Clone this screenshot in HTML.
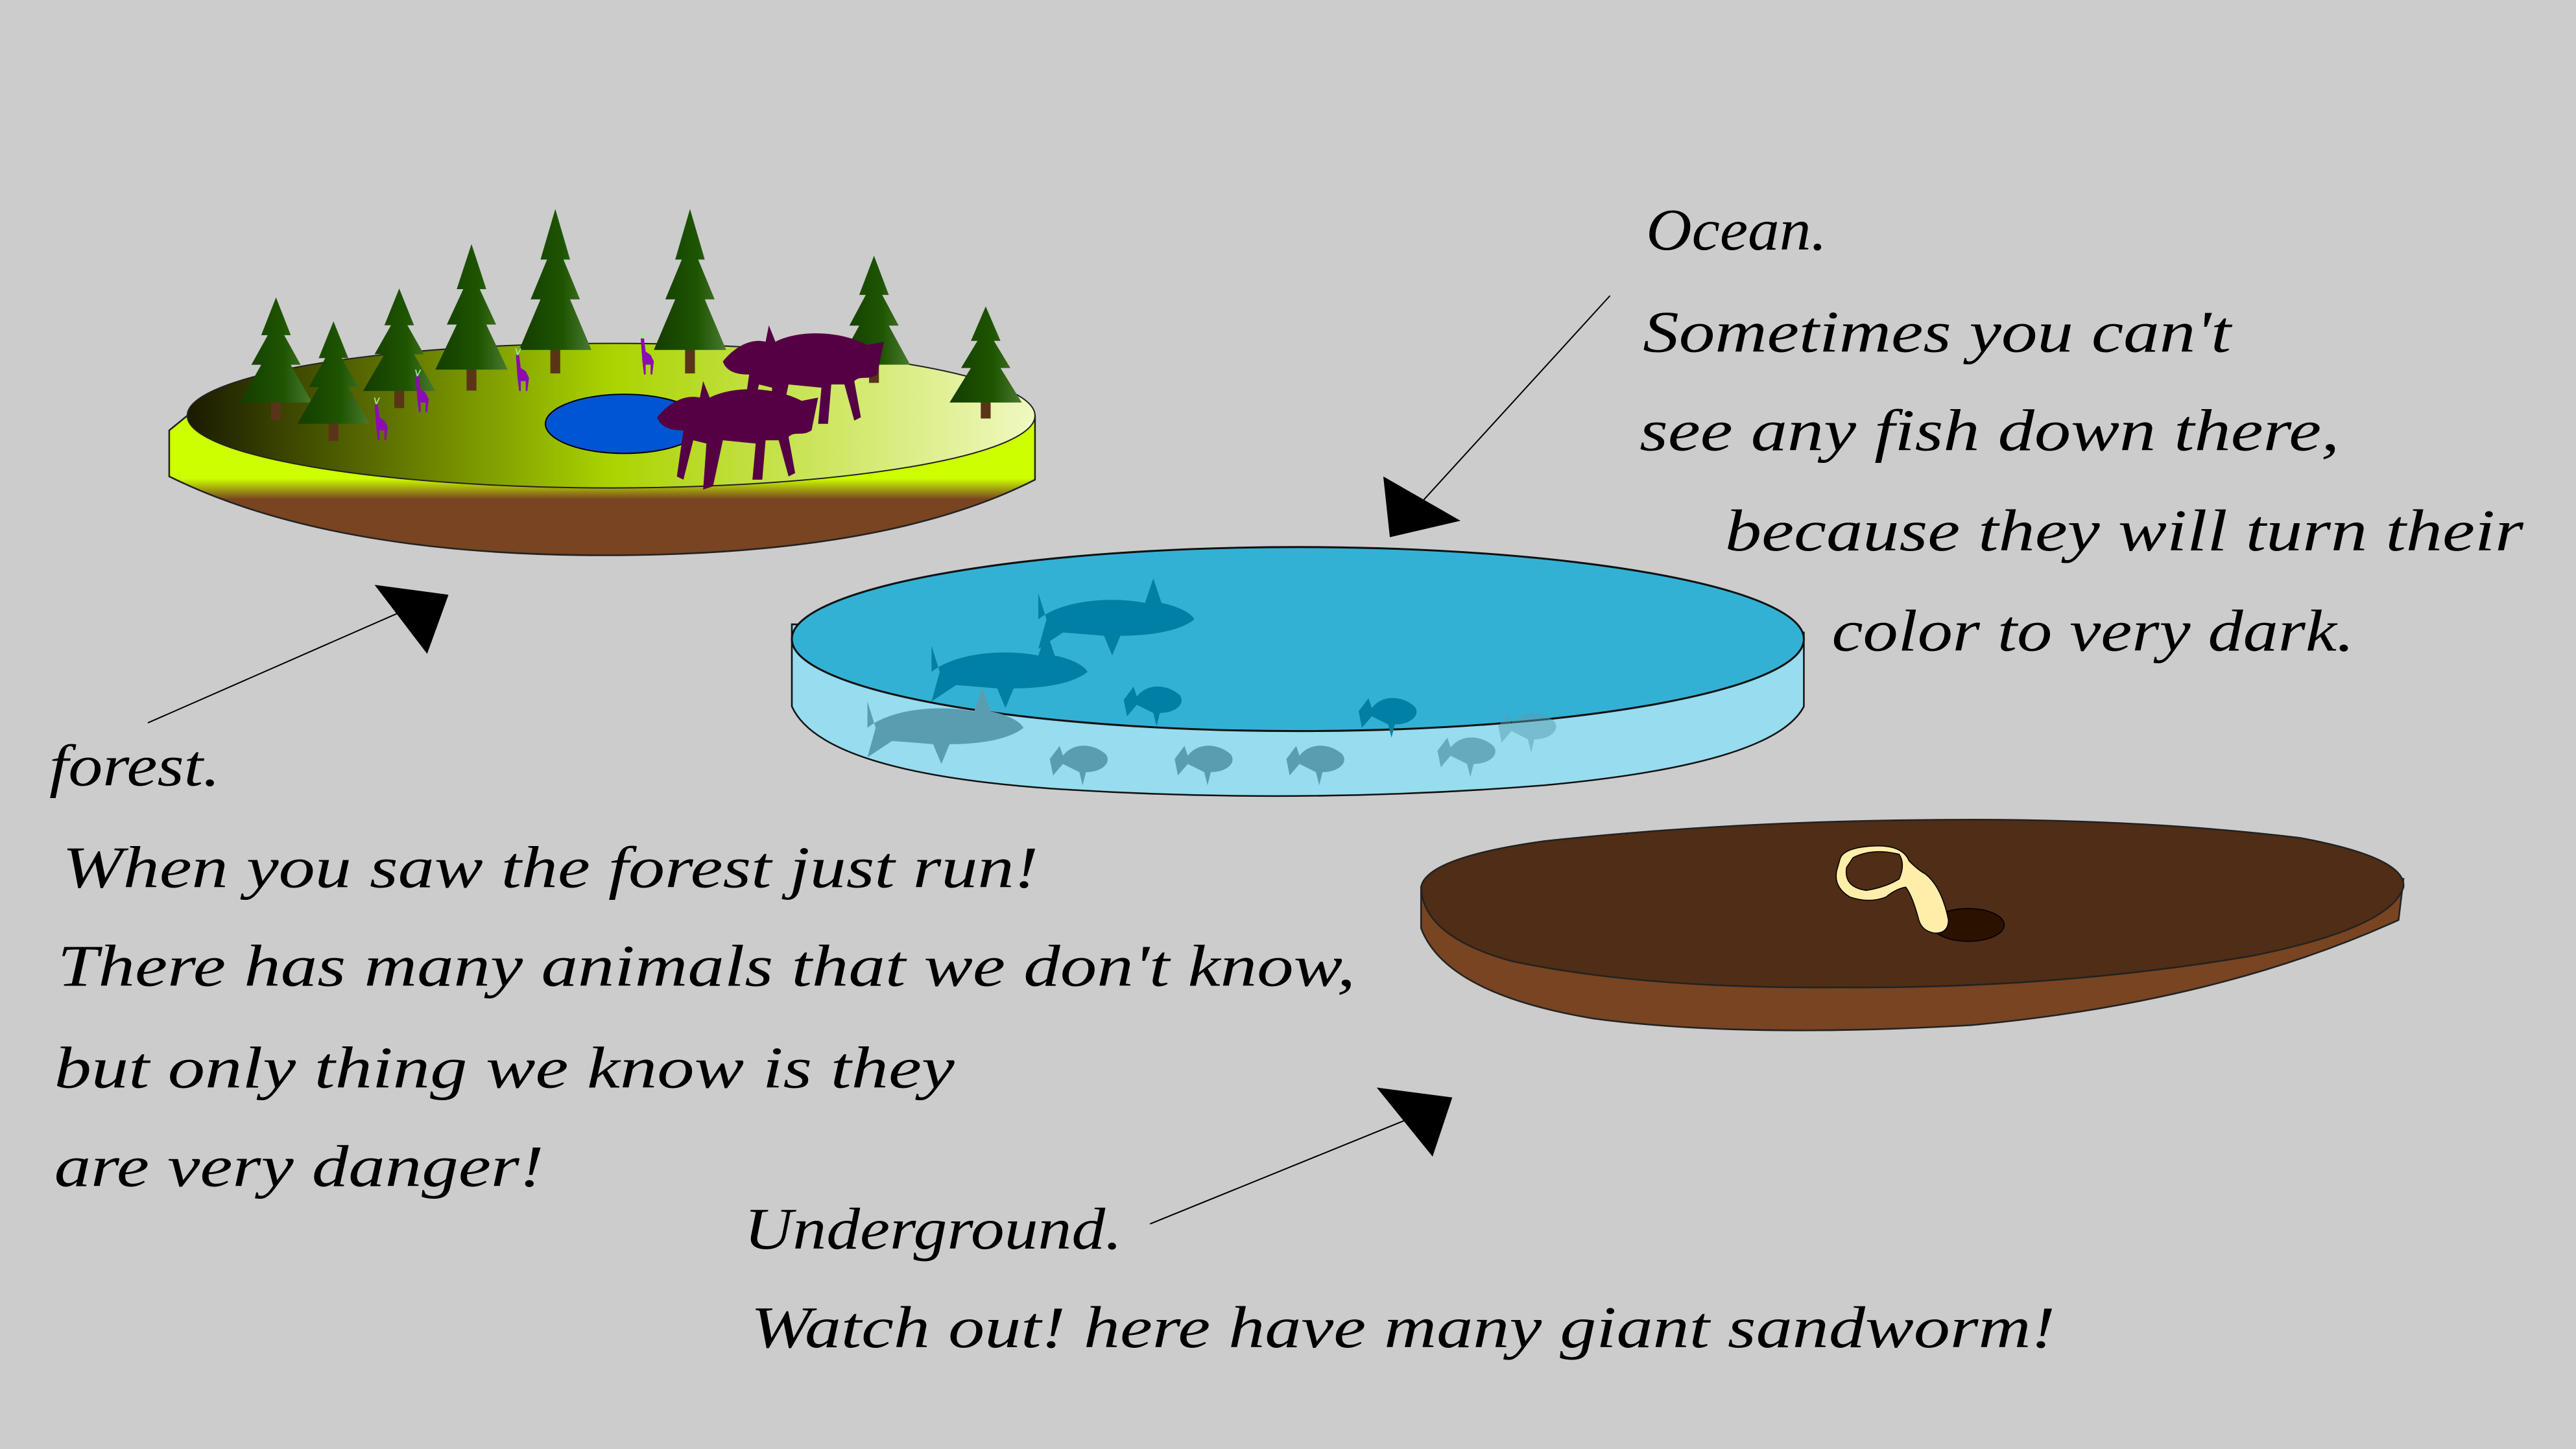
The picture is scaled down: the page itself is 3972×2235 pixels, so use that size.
<!DOCTYPE html>
<html><head><meta charset="utf-8"><style>
html,body{margin:0;padding:0;background:#cccccc;}
svg{display:block;}
text{font-family:"Liberation Serif",serif;font-style:italic;font-size:36px;fill:#000;}
</style></head><body>
<svg width="3972" height="2235" viewBox="0 0 1568 882" preserveAspectRatio="none" xmlns="http://www.w3.org/2000/svg">
<defs>
<linearGradient id="side" x1="0" y1="0" x2="0" y2="1">
<stop offset="0" stop-color="#ccff00"/><stop offset="0.45" stop-color="#ccff00"/><stop offset="0.6" stop-color="#784421"/><stop offset="1" stop-color="#784421"/>
</linearGradient>
<linearGradient id="grass" x1="0" y1="0" x2="1" y2="0">
<stop offset="0" stop-color="#1a1a00"/><stop offset="0.5" stop-color="#aad400"/><stop offset="1" stop-color="#f0f8c0"/>
</linearGradient>
<linearGradient id="tree" x1="0" y1="0" x2="1" y2="0">
<stop offset="0" stop-color="#143d00"/><stop offset="0.6" stop-color="#1e5500"/><stop offset="1" stop-color="#4a7a30"/>
</linearGradient>
<g id="t">
<rect x="-3" y="-2" width="6" height="15" fill="#5a3418"/>
<path d="M0,-78 L9,-50 L5,-50 L15,-28 L9,-28 L22,0 L-22,0 L-9,-28 L-15,-28 L-5,-50 L-9,-50 Z" fill="url(#tree)"/>
</g>
<g id="shark">
<path d="M-45,0 C-30,-12 0,-14 20,-10 L25,-25 L30,-10 C40,-8 48,-4 50,0 C40,8 20,10 5,10 L0,22 L-5,10 L-30,8 L-45,18 L-40,0 L-45,-16 Z"/>
</g>
<g id="fish">
<path d="M-18,0 L-12,-8 L-10,-2 C-4,-10 8,-10 16,-3 C20,2 14,8 4,8 L2,16 L0,8 L-10,3 L-16,10 Z"/>
</g>
<g id="wolf">
<path d="M-48,-8 C-40,-18 -30,-22 -22,-20 L-20,-30 L-16,-20 C0,-28 25,-26 40,-18 L50,-20 L46,0 C40,4 36,0 32,4 L36,26 L32,28 L26,6 L18,6 L16,30 L10,30 L12,8 L-8,6 L-14,34 L-20,36 L-18,8 L-26,6 L-32,30 L-36,28 L-32,0 C-40,0 -46,-2 -48,-8 Z" fill="#550044"/>
</g>
<g id="deer" fill="#8b0cb0">
<path d="M0,-14 L2,-14 L3,-6 L6,-4 L8,0 L7,8 L6,8 L6,2 L3,2 L3,8 L2,8 L1,0 Z"/>
<path d="M1,-14 L0,-18 M1,-14 L3,-18" stroke="#9e9" stroke-width="0.7"/>
</g>
</defs>
<rect width="1568" height="882" fill="#cccccc"/>

<!-- forest island -->
<path d="M114,253 L103,262 L103,290 Q200,338 368,338 Q540,338 630,292 L630,253 Z" fill="url(#side)" stroke="#222" stroke-width="1"/>
<ellipse cx="372" cy="253" rx="258" ry="44" fill="url(#grass)" stroke="#222" stroke-width="0.8"/>
<ellipse cx="380" cy="258" rx="48" ry="18" fill="#0055d4" stroke="#000" stroke-width="0.8"/>
<use href="#t" transform="translate(338,213) scale(1,1.1)"/>
<use href="#t" transform="translate(420,213) scale(1,1.1)"/>
<use href="#t" transform="translate(287,225) scale(1,0.98)"/>
<use href="#t" transform="translate(532,222) scale(1,0.85)"/>
<use href="#t" transform="translate(168,245) scale(1,0.82)"/>
<use href="#t" transform="translate(243,238) scale(1,0.8)"/>
<use href="#t" transform="translate(600,245) scale(1,0.75)"/>
<use href="#t" transform="translate(203,258) scale(1,0.8)"/>
<use href="#deer" x="228" y="260"/>
<use href="#deer" x="253" y="243"/>
<use href="#deer" x="314" y="230"/>
<use href="#deer" x="390" y="220"/>
<use href="#wolf" x="488" y="228"/>
<use href="#wolf" x="448" y="262"/>

<!-- ocean -->
<path d="M482,380 L482,430 Q500,470 640,480 Q790,490 940,478 Q1080,465 1098,430 L1098,385 Z" fill="#97dcef" stroke="#111" stroke-width="1"/>
<ellipse cx="790" cy="389" rx="308" ry="56" fill="#33b1d4" stroke="#111" stroke-width="1.2"/>
<g fill="#0080a4">
<use href="#shark" x="677" y="377"/>
<use href="#shark" x="612" y="409"/>
<use href="#fish" x="702" y="426"/>
<use href="#fish" x="845" y="433"/>
</g>
<g fill="#5a9db0">
<use href="#shark" x="573" y="443"/>
<use href="#fish" x="657" y="462"/>
<use href="#fish" x="733" y="462"/>
<use href="#fish" x="801" y="462"/>
<use href="#fish" x="893" y="457" opacity="0.8"/>
<use href="#fish" x="930" y="442" opacity="0.5"/>
</g>

<!-- underground -->
<path d="M865,540 L865,565 Q880,605 970,620 Q1060,632 1200,624 Q1350,610 1460,560 L1463,535 Z" fill="#784421" stroke="#222" stroke-width="1"/>
<path d="M865,540 Q868,522 940,512 Q1050,500 1180,499 Q1300,498 1400,510 Q1465,522 1463,540 Q1455,565 1370,582 Q1250,602 1120,601 Q1000,602 920,585 Q866,570 865,540 Z" fill="#502d16" stroke="#222" stroke-width="1"/>
<ellipse cx="1198" cy="563" rx="22" ry="10" fill="#2b1100" stroke="#000" stroke-width="0.6"/>
<path d="M1120,523 Q1122,516 1140,515 Q1158,514 1162,524 Q1168,530 1172,532 Q1182,540 1186,560 Q1186,568 1178,568 Q1170,567 1168,560 Q1164,545 1160,540 Q1154,541 1148,546 Q1138,550 1126,546 Q1116,540 1118,530 Z M1124,528 Q1122,540 1136,542 Q1148,540 1156,535 Q1160,526 1156,520 Q1140,516 1128,522 Z" fill="#ffeeaa" stroke="#000" stroke-width="0.6" fill-rule="evenodd"/>

<!-- arrows -->
<g stroke="#000" stroke-width="0.8">
<line x1="90" y1="440" x2="245" y2="372"/>
<line x1="980" y1="180" x2="865" y2="306"/>
<line x1="700" y1="745" x2="860" y2="680"/>
</g>
<path d="M228,356 L273,362 L260,398 Z" fill="#000"/>
<path d="M842,290 L889,317 L846,327 Z" fill="#000"/>
<path d="M838,662 L884,668 L872,704 Z" fill="#000"/>

<!-- text -->
<text x="1002" y="152" textLength="110" lengthAdjust="spacingAndGlyphs">Ocean.</text>
<text x="1000" y="214" textLength="358" lengthAdjust="spacingAndGlyphs">Sometimes you can't</text>
<text x="998" y="274" textLength="426" lengthAdjust="spacingAndGlyphs">see any fish down there,</text>
<text x="1050" y="335" textLength="486" lengthAdjust="spacingAndGlyphs">because they will turn their</text>
<text x="1115" y="396" textLength="318" lengthAdjust="spacingAndGlyphs">color to very dark.</text>

<text x="30" y="478" textLength="104" lengthAdjust="spacingAndGlyphs">forest.</text>
<text x="38" y="540" textLength="594" lengthAdjust="spacingAndGlyphs">When you saw the forest just run!</text>
<text x="35" y="600" textLength="790" lengthAdjust="spacingAndGlyphs">There has many animals that we don't know,</text>
<text x="33" y="662" textLength="548" lengthAdjust="spacingAndGlyphs">but only thing we know is they</text>
<text x="33" y="722" textLength="298" lengthAdjust="spacingAndGlyphs">are very danger!</text>

<text x="453" y="760" textLength="230" lengthAdjust="spacingAndGlyphs">Underground.</text>
<text x="457" y="820" textLength="794" lengthAdjust="spacingAndGlyphs">Watch out! here have many giant sandworm!</text>
</svg>
</body></html>
